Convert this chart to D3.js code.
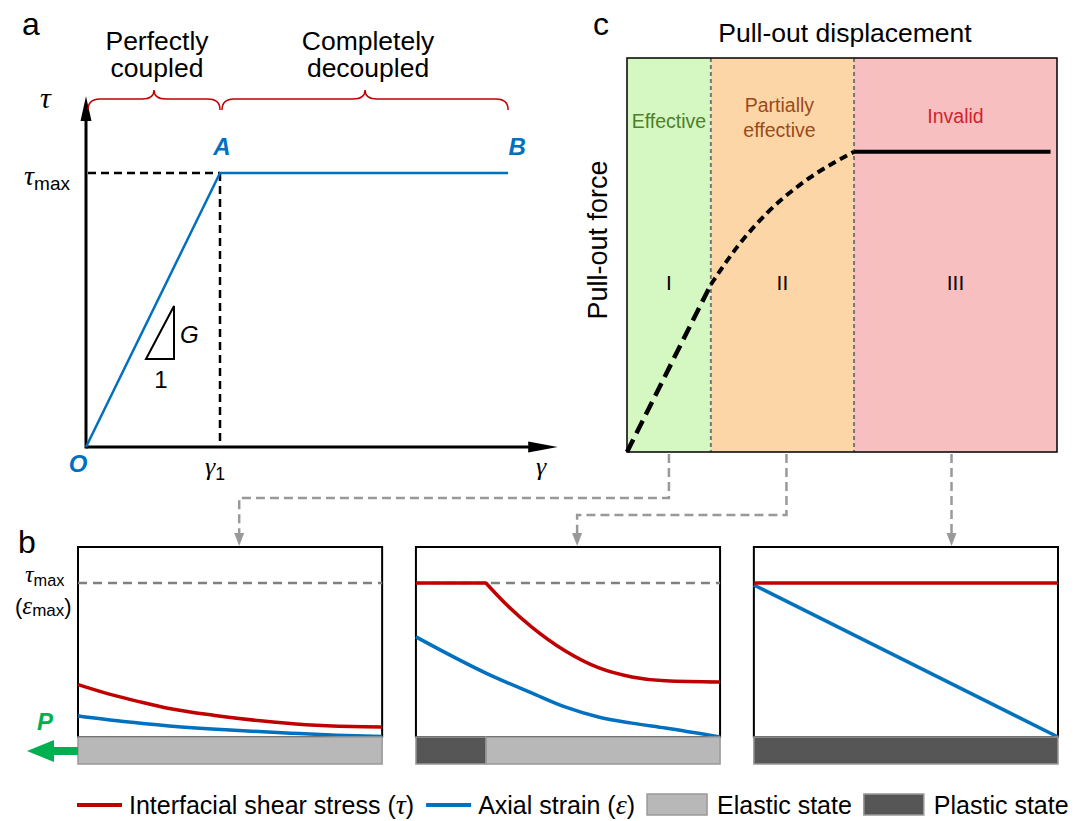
<!DOCTYPE html>
<head>
<meta charset="UTF-8">
<script src="https://d3js.org/d3.v7.min.js"></script>
<style>
  body { margin: 0; background: #fff; }
  text { font-family: "Liberation Sans", Arial, sans-serif; }
</style>
</head>
<body>
<div id="chart"></div>
<script>
// ---- panel a : bond-slip law ----
const slipGamma = [0, 1, 3.15];
const slipTau = [0, 1, 1];
const stageNames = [["Perfectly", "coupled"], ["Completely", "decoupled"]];
const stageBounds = [[0, 1], [1, 3.15]];

// ---- panel c : pull-out curve ----
const zoneEdges = [0, 1.95, 5.28, 10];
const zoneNames = [["Effective"], ["Partially", "effective"], ["Invalid"]];
const zoneNumerals = ["I", "II", "III"];
const zoneFill = ["#d5f7c1", "#fcd6a6", "#f7bfbf"];
const zoneText = ["#4e7f2a", "#9b4a1c", "#d2232f"];
const forceLinearX = [0, 1.95];
const forceLinearY = [0, 0.425];
const forceCurveX = [1.95, 2.56, 3.26, 4.02, 4.79, 5.28];
const forceCurveY = [0.425, 0.52, 0.607, 0.678, 0.733, 0.762];
const forcePlateauX = [5.28, 9.85];
const forcePlateauY = [0.762, 0.762];

// ---- panel b : distributions along the anchor ----
const caseIds = ["I", "II", "III"];
const plasticLength = [0, 0.23, 1];
const stressPos = [
  [0, 0.1, 0.2, 0.3, 0.45, 0.6, 0.75, 0.9, 1],
  [0, 0.23, 0.3, 0.38, 0.49, 0.6, 0.71, 0.82, 1],
  [0, 1]
];
const stressVal = [
  [0.34, 0.28, 0.23, 0.185, 0.14, 0.105, 0.08, 0.068, 0.065],
  [1, 1, 0.855, 0.715, 0.56, 0.45, 0.39, 0.365, 0.357],
  [1, 1]
];
const stressKink = [0, 1, 0];   // index where the plateau ends
const strainPos = [
  [0, 0.15, 0.3, 0.5, 0.7, 0.85, 1],
  [0, 0.23, 0.38, 0.49, 0.6, 0.71, 0.82, 1],
  [0, 1]
];
const strainVal = [
  [0.136, 0.1, 0.072, 0.045, 0.025, 0.012, 0.003],
  [0.65, 0.415, 0.286, 0.195, 0.13, 0.09, 0.058, 0],
  [0.987, 0]
];
const legendItems = [
  { kind: "line", color: "#c00000", label: "Interfacial shear stress (", sym: "τ" },
  { kind: "line", color: "#0070c0", label: "Axial strain (", sym: "ε" },
  { kind: "box", color: "#b8b8b8", label: "Elastic state" },
  { kind: "box", color: "#565656", label: "Plastic state" }
];

const BLUE = "#0070c0", RED = "#c00000", GRAY = "#999";

const svg = d3.select("#chart").append("svg")
  .attr("width", 1085).attr("height", 821);

function panelLabel(t, x, y) {
  svg.append("text").attr("x", x).attr("y", y).attr("font-size", 32).text(t);
}
function greek(g, x, y, s, sub, size) {
  const t = g.append("text").attr("x", x).attr("y", y);
  t.append("tspan").attr("font-family", "Liberation Serif, serif").attr("font-style", "italic")
    .attr("font-size", size).text(s);
  if (sub) t.append("tspan").attr("font-size", size * 0.68).attr("dy", size * 0.18).text(sub);
  return t;
}

// ================= panel a =================
const xA = d3.scaleLinear([0, 1], [86, 220]);
const yA = d3.scaleLinear([0, 1], [447, 173]);
const ga = svg.append("g");
panelLabel("a", 22, 35);

// axes
ga.append("line").attr("x1", xA(0)).attr("x2", xA(0)).attr("y1", yA(0) + 1.5).attr("y2", yA(1.22))
  .attr("stroke", "#000").attr("stroke-width", 3);
ga.append("path").attr("d", `M${xA(0)},${yA(1.28)} L${xA(0) - 5.5},${yA(1.19)} L${xA(0) + 5.5},${yA(1.19)}Z`);
ga.append("line").attr("x1", xA(0)).attr("x2", xA(3.35)).attr("y1", yA(0)).attr("y2", yA(0))
  .attr("stroke", "#000").attr("stroke-width", 3);
ga.append("path").attr("d", `M${xA(3.52)},${yA(0)} L${xA(3.3)},${yA(0) - 5.5} L${xA(3.3)},${yA(0) + 5.5}Z`);

// guides
ga.append("line").attr("x1", xA(0) + 2).attr("x2", xA(1)).attr("y1", yA(1)).attr("y2", yA(1))
  .attr("stroke", "#000").attr("stroke-width", 2.5).attr("stroke-dasharray", "8 5");
ga.append("line").attr("x1", xA(1)).attr("x2", xA(1)).attr("y1", yA(1)).attr("y2", yA(0))
  .attr("stroke", "#000").attr("stroke-width", 2.5).attr("stroke-dasharray", "8 5");

// bond-slip line
ga.append("path")
  .attr("d", d3.line().x((d, i) => xA(slipGamma[i])).y((d, i) => yA(slipTau[i]))(slipGamma))
  .attr("fill", "none").attr("stroke", BLUE).attr("stroke-width", 2.5);

// point labels
[["O", 0, -0.09, -8], ["A", 1, 1.065, 2], ["B", 3.15, 1.065, 9]].forEach(([t, gx, ty, dx]) => {
  ga.append("text").attr("x", xA(gx) + dx).attr("y", yA(ty)).attr("text-anchor", "middle")
    .attr("font-size", 24).attr("font-weight", "bold").attr("font-style", "italic")
    .attr("fill", BLUE).text(t);
});

// axis symbols
greek(ga, 40, 108, "τ", null, 30);
greek(ga, 24, 185, "τ", "max", 28);
greek(ga, xA(1) - 15, 475, "γ", "1", 26);
greek(ga, 536, 475, "γ", null, 26);

// slope triangle
ga.append("path").attr("d", "M146,359 L174,359 L174,306 Z").attr("fill", "none")
  .attr("stroke", "#000").attr("stroke-width", 2);
ga.append("text").attr("x", 180).attr("y", 343).attr("font-size", 24).attr("font-style", "italic").text("G");
ga.append("text").attr("x", 161).attr("y", 388).attr("font-size", 24).attr("text-anchor", "middle").text("1");

// braces + stage names
function brace(x0, x1, yt, ym, yb) {
  const xm = (x0 + x1) / 2, r = 12;
  return `M${x0},${yb} Q${x0},${ym} ${x0 + r},${ym} L${xm - r},${ym} Q${xm},${ym} ${xm},${yt} ` +
    `Q${xm},${ym} ${xm + r},${ym} L${x1 - r},${ym} Q${x1},${ym} ${x1},${yb}`;
}
stageBounds.forEach(([a, b], i) => {
  ga.append("path").attr("d", brace(xA(a) + 2, xA(b), 90, 99, 110))
    .attr("fill", "none").attr("stroke", RED).attr("stroke-width", 1.5);
  stageNames[i].forEach((s, j) => {
    ga.append("text").attr("x", (xA(a) + xA(b)) / 2 + 4).attr("y", 50 + j * 27)
      .attr("text-anchor", "middle").attr("font-size", 26.5).text(s);
  });
});

// ================= panel c =================
const xC = d3.scaleLinear([0, 10], [627, 1057]);
const yC = d3.scaleLinear([0, 1], [452, 58]);
const gc = svg.append("g");
panelLabel("c", 593, 35);
gc.append("text").attr("x", 845).attr("y", 42).attr("text-anchor", "middle").attr("font-size", 26.5)
  .text("Pull-out displacement");
gc.append("text").attr("transform", `translate(607,${(yC(0) + yC(1)) / 2 - 15}) rotate(-90)`)
  .attr("text-anchor", "middle").attr("font-size", 27).text("Pull-out force");

zoneNumerals.forEach((n, i) => {
  const x0 = xC(zoneEdges[i]), x1 = xC(zoneEdges[i + 1]), xm = (x0 + x1) / 2;
  gc.append("rect").attr("x", x0).attr("y", yC(1)).attr("width", x1 - x0).attr("height", yC(0) - yC(1))
    .attr("fill", zoneFill[i]);
  const lines = zoneNames[i];
  lines.forEach((s, j) => {
    gc.append("text").attr("x", xm - (i === 1 ? 3 : 0)).attr("y", (lines.length > 1 ? 112 : 128) + j * 25 - (i === 2 ? 5 : 0))
      .attr("text-anchor", "middle").attr("font-size", 19.5).attr("fill", zoneText[i]).text(s);
  });
  gc.append("text").attr("x", xm).attr("y", 290).attr("text-anchor", "middle").attr("font-size", 21).text(n);
});
[1, 2].forEach(i => {
  gc.append("line").attr("x1", xC(zoneEdges[i])).attr("x2", xC(zoneEdges[i]))
    .attr("y1", yC(1)).attr("y2", yC(0)).attr("stroke", "#777").attr("stroke-width", 2)
    .attr("stroke-dasharray", "4 3");
});
gc.append("rect").attr("x", xC(0)).attr("y", yC(1)).attr("width", xC(10) - xC(0))
  .attr("height", yC(0) - yC(1)).attr("fill", "none").attr("stroke", "#000").attr("stroke-width", 1.5);

const lineC = d3.line().x(d => xC(d[0])).y(d => yC(d[1]));
gc.append("path").attr("d", lineC(d3.zip(forceLinearX, forceLinearY)))
  .attr("fill", "none").attr("stroke", "#000").attr("stroke-width", 4.5).attr("stroke-dasharray", "14 7");
gc.append("path").attr("d", d3.line().x(d => xC(d[0])).y(d => yC(d[1])).curve(d3.curveMonotoneX)(d3.zip(forceCurveX, forceCurveY)))
  .attr("fill", "none").attr("stroke", "#000").attr("stroke-width", 4).attr("stroke-dasharray", "8 5");
gc.append("path").attr("d", lineC(d3.zip(forcePlateauX, forcePlateauY)))
  .attr("fill", "none").attr("stroke", "#000").attr("stroke-width", 4);

// ================= panel b =================
const band = d3.scaleBand(caseIds, [78, 1058]).paddingInner(0.1);
const yB = d3.scaleLinear([0, 1], [737, 583]);
const boxTop = 547, barH = 27;
const gb = svg.append("g");
panelLabel("b", 18, 553);

// connectors from c to b
const drops = [498, 515, null];
const targetFrac = [0.53, 0.53, 0.65];
caseIds.forEach((id, i) => {
  const sx = xC((zoneEdges[i] + zoneEdges[i + 1]) / 2) + (i === 0 ? 0 : i === 1 ? 4 : -4);
  const tx = band(id) + targetFrac[i] * band.bandwidth();
  const d = drops[i] == null ? `M${sx},${yC(0) + 2} V${boxTop - 12}`
    : `M${sx},${yC(0) + 2} V${drops[i]} H${tx} V${boxTop - 12}`;
  gb.append("path").attr("d", d).attr("fill", "none").attr("stroke", GRAY)
    .attr("stroke-width", 2.5).attr("stroke-dasharray", "9 5");
  const ax = drops[i] == null ? sx : tx;
  gb.append("path").attr("d", `M${ax - 5},${boxTop - 14} L${ax + 5},${boxTop - 14} L${ax},${boxTop - 1}Z`)
    .attr("fill", GRAY);
});

caseIds.forEach((id, i) => {
  const x = d3.scaleLinear([0, 1], [band(id), band(id) + band.bandwidth()]);
  const g = gb.append("g");
  g.append("rect").attr("x", x(0)).attr("y", boxTop).attr("width", x(1) - x(0)).attr("height", yB(0) - boxTop)
    .attr("fill", "#fff").attr("stroke", "#000").attr("stroke-width", 2);
  if (i < 2) g.append("line").attr("x1", x(0)).attr("x2", x(1)).attr("y1", yB(1)).attr("y2", yB(1))
    .attr("stroke", "#808080").attr("stroke-width", 2.5).attr("stroke-dasharray", "9 6");
  const smooth = d3.line().x(d => x(d[0])).y(d => yB(d[1])).curve(d3.curveMonotoneX);
  const straight = d3.line().x(d => x(d[0])).y(d => yB(d[1]));
  g.append("path").attr("d", smooth(d3.zip(strainPos[i], strainVal[i]))).attr("fill", "none")
    .attr("stroke", BLUE).attr("stroke-width", 3.5);
  const pts = d3.zip(stressPos[i], stressVal[i]);
  const k = stressKink[i];
  const d = k > 0 ? straight(pts.slice(0, k + 1)) + smooth(pts.slice(k)).replace(/^M/, "L") : smooth(pts);
  g.append("path").attr("d", d).attr("fill", "none")
    .attr("stroke", RED).attr("stroke-width", 3.5).attr("stroke-linejoin", "round");
  // anchor bar
  if (plasticLength[i] < 1)
    g.append("rect").attr("x", x(plasticLength[i])).attr("y", yB(0)).attr("width", x(1) - x(plasticLength[i]))
      .attr("height", barH).attr("fill", "#b8b8b8").attr("stroke", "#999").attr("stroke-width", 1.5);
  if (plasticLength[i] > 0)
    g.append("rect").attr("x", x(0)).attr("y", yB(0)).attr("width", x(plasticLength[i]) - x(0))
      .attr("height", barH).attr("fill", "#565656").attr("stroke", "#999").attr("stroke-width", 1.5);
});

greek(gb, 25, 582, "τ", "max", 24);
const em = gb.append("text").attr("x", 15).attr("y", 614).attr("font-size", 22);
em.append("tspan").text("(");
em.append("tspan").attr("font-family", "Liberation Serif, serif").attr("font-style", "italic").attr("font-size", 25).text("ε");
em.append("tspan").attr("font-size", 17).attr("dy", 2).text("max");
em.append("tspan").attr("dy", -2).text(")");

// pull force P
gb.append("text").attr("x", 45).attr("y", 730).attr("text-anchor", "middle").attr("font-size", 24)
  .attr("font-weight", "bold").attr("font-style", "italic").attr("fill", "#00b050").text("P");
gb.append("path").attr("d", "M27,751 L54,740 L54,747 L78,747 L78,755 L54,755 L54,762 Z").attr("fill", "#00b050");

// ================= legend =================
const gl = svg.append("g");
let lx = 77;
const ly = 805;
legendItems.forEach(it => {
  if (it.kind === "line") {
    gl.append("line").attr("x1", lx).attr("x2", lx + 45).attr("y1", ly).attr("y2", ly)
      .attr("stroke", it.color).attr("stroke-width", 4);
  } else {
    gl.append("rect").attr("x", lx).attr("y", ly - 11).attr("width", 60).attr("height", 21)
      .attr("fill", it.color).attr("stroke", "#999").attr("stroke-width", 1.5);
  }
  lx += it.kind === "line" ? 52 : 70;
  const t = gl.append("text").attr("x", lx).attr("y", ly + 9).attr("font-size", 25);
  t.append("tspan").text(it.label);
  if (it.sym) {
    t.append("tspan").attr("font-family", "Liberation Serif, serif").attr("font-style", "italic")
      .attr("font-size", 28).text(it.sym);
    t.append("tspan").text(")");
  }
  lx += t.node().getComputedTextLength() + 12;
});
</script>
</body>
</html>
